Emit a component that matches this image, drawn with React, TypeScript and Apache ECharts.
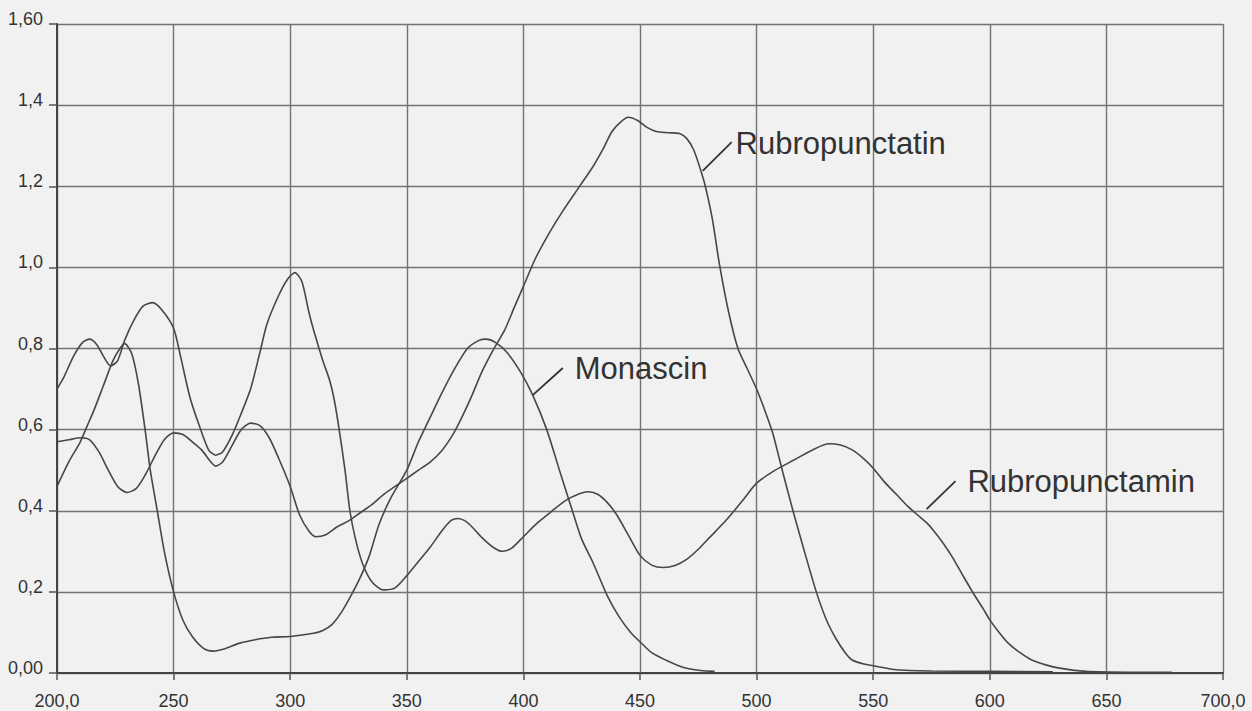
import { useEffect, useRef } from "react";
import * as echarts from "echarts";

// [wavelength nm, absorbance]
const monascin: [number, number][] = [
  [200, 0.46], [205, 0.52], [210, 0.57], [213, 0.61], [216, 0.65], [220, 0.71], [224, 0.77], [227, 0.80], [229, 0.812],
  [232, 0.788], [235, 0.71], [238, 0.59], [240, 0.5], [243, 0.4], [246, 0.3], [250, 0.2], [254, 0.13], [258, 0.09],
  [263, 0.06], [267, 0.054], [272, 0.06], [278, 0.073], [285, 0.082], [292, 0.088], [300, 0.09], [310, 0.098],
  [314, 0.105], [318, 0.12], [322, 0.15], [326, 0.19], [330, 0.235], [334, 0.29], [338, 0.365], [343, 0.43],
  [350, 0.5], [355, 0.57], [360, 0.63], [365, 0.69], [370, 0.745], [376, 0.8], [381, 0.82], [384, 0.823],
  [388, 0.815], [393, 0.79], [399, 0.74], [404, 0.685], [410, 0.6], [416, 0.49], [421, 0.4], [425, 0.33],
  [430, 0.27], [436, 0.19], [441, 0.139], [446, 0.1], [450, 0.077], [455, 0.05], [461, 0.032], [468, 0.015],
  [476, 0.006], [482, 0.004],
];

const rubropunctatin: [number, number][] = [
  [200, 0.57], [205, 0.575], [210, 0.58], [214, 0.575], [218, 0.545], [222, 0.5], [226, 0.46], [230, 0.445],
  [234, 0.455], [238, 0.49], [242, 0.535], [246, 0.575], [250, 0.592], [254, 0.588], [258, 0.57], [262, 0.55],
  [266, 0.52], [268, 0.51], [271, 0.52], [275, 0.56], [279, 0.6], [283, 0.616], [287, 0.61], [291, 0.58],
  [295, 0.53], [300, 0.46], [304, 0.39], [308, 0.35], [311, 0.336], [315, 0.34], [320, 0.36], [325, 0.375],
  [330, 0.395], [335, 0.415], [340, 0.44], [345, 0.46], [350, 0.48], [355, 0.5], [360, 0.52], [365, 0.548],
  [370, 0.59], [374, 0.635], [378, 0.685], [382, 0.74], [387, 0.796], [392, 0.846], [396, 0.9], [400, 0.953],
  [405, 1.02], [411, 1.084], [417, 1.14], [424, 1.199], [430, 1.25], [434, 1.29], [438, 1.335], [442, 1.36],
  [445, 1.37], [449, 1.362], [453, 1.345], [457, 1.335], [462, 1.332], [467, 1.33], [470, 1.318], [473, 1.29],
  [476, 1.24], [478, 1.2], [481, 1.12], [484, 1.01], [488, 0.89], [492, 0.8], [496, 0.75], [500, 0.7],
  [504, 0.64], [507, 0.59], [511, 0.5], [515.6, 0.4], [520, 0.31], [525.6, 0.2], [530, 0.13], [534, 0.085],
  [538, 0.05], [541, 0.032], [546, 0.022], [550, 0.018], [560, 0.008], [575, 0.005], [600, 0.004], [627, 0.003],
];

const rubropunctamin: [number, number][] = [
  [200, 0.7], [203, 0.73], [207, 0.78], [211, 0.815], [214, 0.823], [217, 0.81], [220, 0.78], [223, 0.757],
  [226, 0.77], [229, 0.82], [233, 0.87], [237, 0.905], [241, 0.913], [245, 0.895], [250, 0.85], [253, 0.78],
  [257, 0.68], [261, 0.61], [265, 0.55], [268, 0.537], [271, 0.545], [275, 0.585], [279, 0.64], [283, 0.7],
  [287, 0.79], [290, 0.86], [295, 0.93], [299, 0.972], [302, 0.987], [305, 0.965], [308, 0.89], [310, 0.846],
  [314, 0.77], [317, 0.72], [319, 0.67], [321, 0.6], [323.5, 0.5], [325.6, 0.4], [328, 0.33], [331, 0.27],
  [335, 0.225], [340, 0.205], [345, 0.21], [350, 0.24], [355, 0.275], [360, 0.31], [365, 0.35], [369, 0.376],
  [372, 0.381], [375, 0.375], [378, 0.36], [382, 0.335], [387, 0.31], [391, 0.3], [395, 0.308], [400, 0.336],
  [406, 0.37], [412, 0.398], [418, 0.425], [424, 0.442], [428, 0.447], [432, 0.44], [436, 0.42], [440, 0.39],
  [445, 0.34], [450, 0.29], [455, 0.266], [460, 0.26], [465, 0.265], [470, 0.28], [475, 0.305], [480, 0.335],
  [487, 0.377], [494, 0.425], [500, 0.468], [508, 0.5], [516, 0.525], [524, 0.55], [531, 0.565], [536, 0.562],
  [541, 0.55], [546, 0.528], [550, 0.505], [555, 0.47], [560, 0.44], [565, 0.41], [570, 0.385], [573, 0.37],
  [576, 0.35], [580, 0.32], [584, 0.285], [588, 0.245], [593, 0.196], [597, 0.16], [600, 0.131], [604, 0.1],
  [608, 0.073], [613, 0.05], [618, 0.032], [624, 0.02], [630, 0.012], [641, 0.004], [660, 0.002], [678, 0.002],
];

const seriesNames = ["Monascin", "Rubropunctatin", "Rubropunctamin"];
const seriesData = [monascin, rubropunctatin, rubropunctamin];

// annotation anchors in data coordinates [nm, absorbance]
const labelAnchors: [number, number][] = [[422, 0.751], [491, 1.305], [590.4, 0.471]];
const leaderFrom: [number, number][] = [[404, 0.685], [476.9, 1.238], [572.9, 0.404]];
const leaderTo: [number, number][] = [[416.9, 0.752], [489.3, 1.309], [585.3, 0.473]];

const FONT = "'Liberation Sans', Arial, sans-serif";

export default function App() {
  const ref = useRef<HTMLDivElement>(null);

  useEffect(() => {
    if (!ref.current) return;
    const chart = echarts.init(ref.current, null, { renderer: "svg" });

    const series = seriesNames.map((name, i) => ({
      name,
      type: "line",
      data: seriesData[i],
      showSymbol: false,
      smooth: 0.25,
      silent: true,
      lineStyle: { color: "#474747", width: 1.6 },
      markLine: {
        silent: true,
        symbol: ["none", "none"],
        label: { show: false },
        lineStyle: { color: "#333", width: 1.8, type: "solid" },
        data: [[{ coord: leaderFrom[i] }, { coord: leaderTo[i] }]],
      },
      markPoint: {
        silent: true,
        symbol: "circle",
        symbolSize: 0,
        itemStyle: { color: "transparent" },
        label: {
          show: true,
          position: "right",
          distance: 0,
          formatter: name,
          color: "#333",
          fontSize: 31,
          fontFamily: FONT,
        },
        data: [{ coord: labelAnchors[i] }],
      },
    }));

    chart.setOption({
      animation: false,
      backgroundColor: "#f1f1f1",
      grid: { left: 57, right: 29, top: 24, bottom: 38, containLabel: false },
      xAxis: {
        type: "value",
        min: 200,
        max: 700,
        interval: 50,
        axisLine: { show: true, lineStyle: { color: "#444", width: 2 } },
        axisTick: { show: true, length: 7, lineStyle: { color: "#555", width: 1.5 } },
        splitLine: { show: true, lineStyle: { color: "#737373", width: 1.4 } },
        axisLabel: {
          color: "#333",
          fontSize: 18,
          fontFamily: FONT,
          margin: 19,
          formatter: (v: number) => (v === 200 || v === 700 ? v.toFixed(1).replace(".", ",") : String(Math.round(v))),
        },
      },
      yAxis: {
        type: "value",
        min: 0,
        max: 1.6,
        interval: 0.2,
        axisLine: { show: true, lineStyle: { color: "#444", width: 2 } },
        axisTick: { show: true, length: 8, lineStyle: { color: "#555", width: 1.5 } },
        splitLine: { show: true, lineStyle: { color: "#737373", width: 1.4 } },
        axisLabel: {
          color: "#333",
          fontSize: 18,
          fontFamily: FONT,
          margin: 14,
          verticalAlign: "bottom",
          lineHeight: 10,
          formatter: (v: number) => {
            const r = Math.round(v * 10) / 10;
            if (r === 0 || r === 1.6) return r.toFixed(2).replace(".", ",");
            return r.toFixed(1).replace(".", ",");
          },
        },
      },
      series,
    });

    return () => chart.dispose();
  }, []);

  return (
    <div
      ref={ref}
      style={{ position: "absolute", left: 0, top: 0, width: 1252, height: 711, background: "#f1f1f1" }}
    />
  );
}
